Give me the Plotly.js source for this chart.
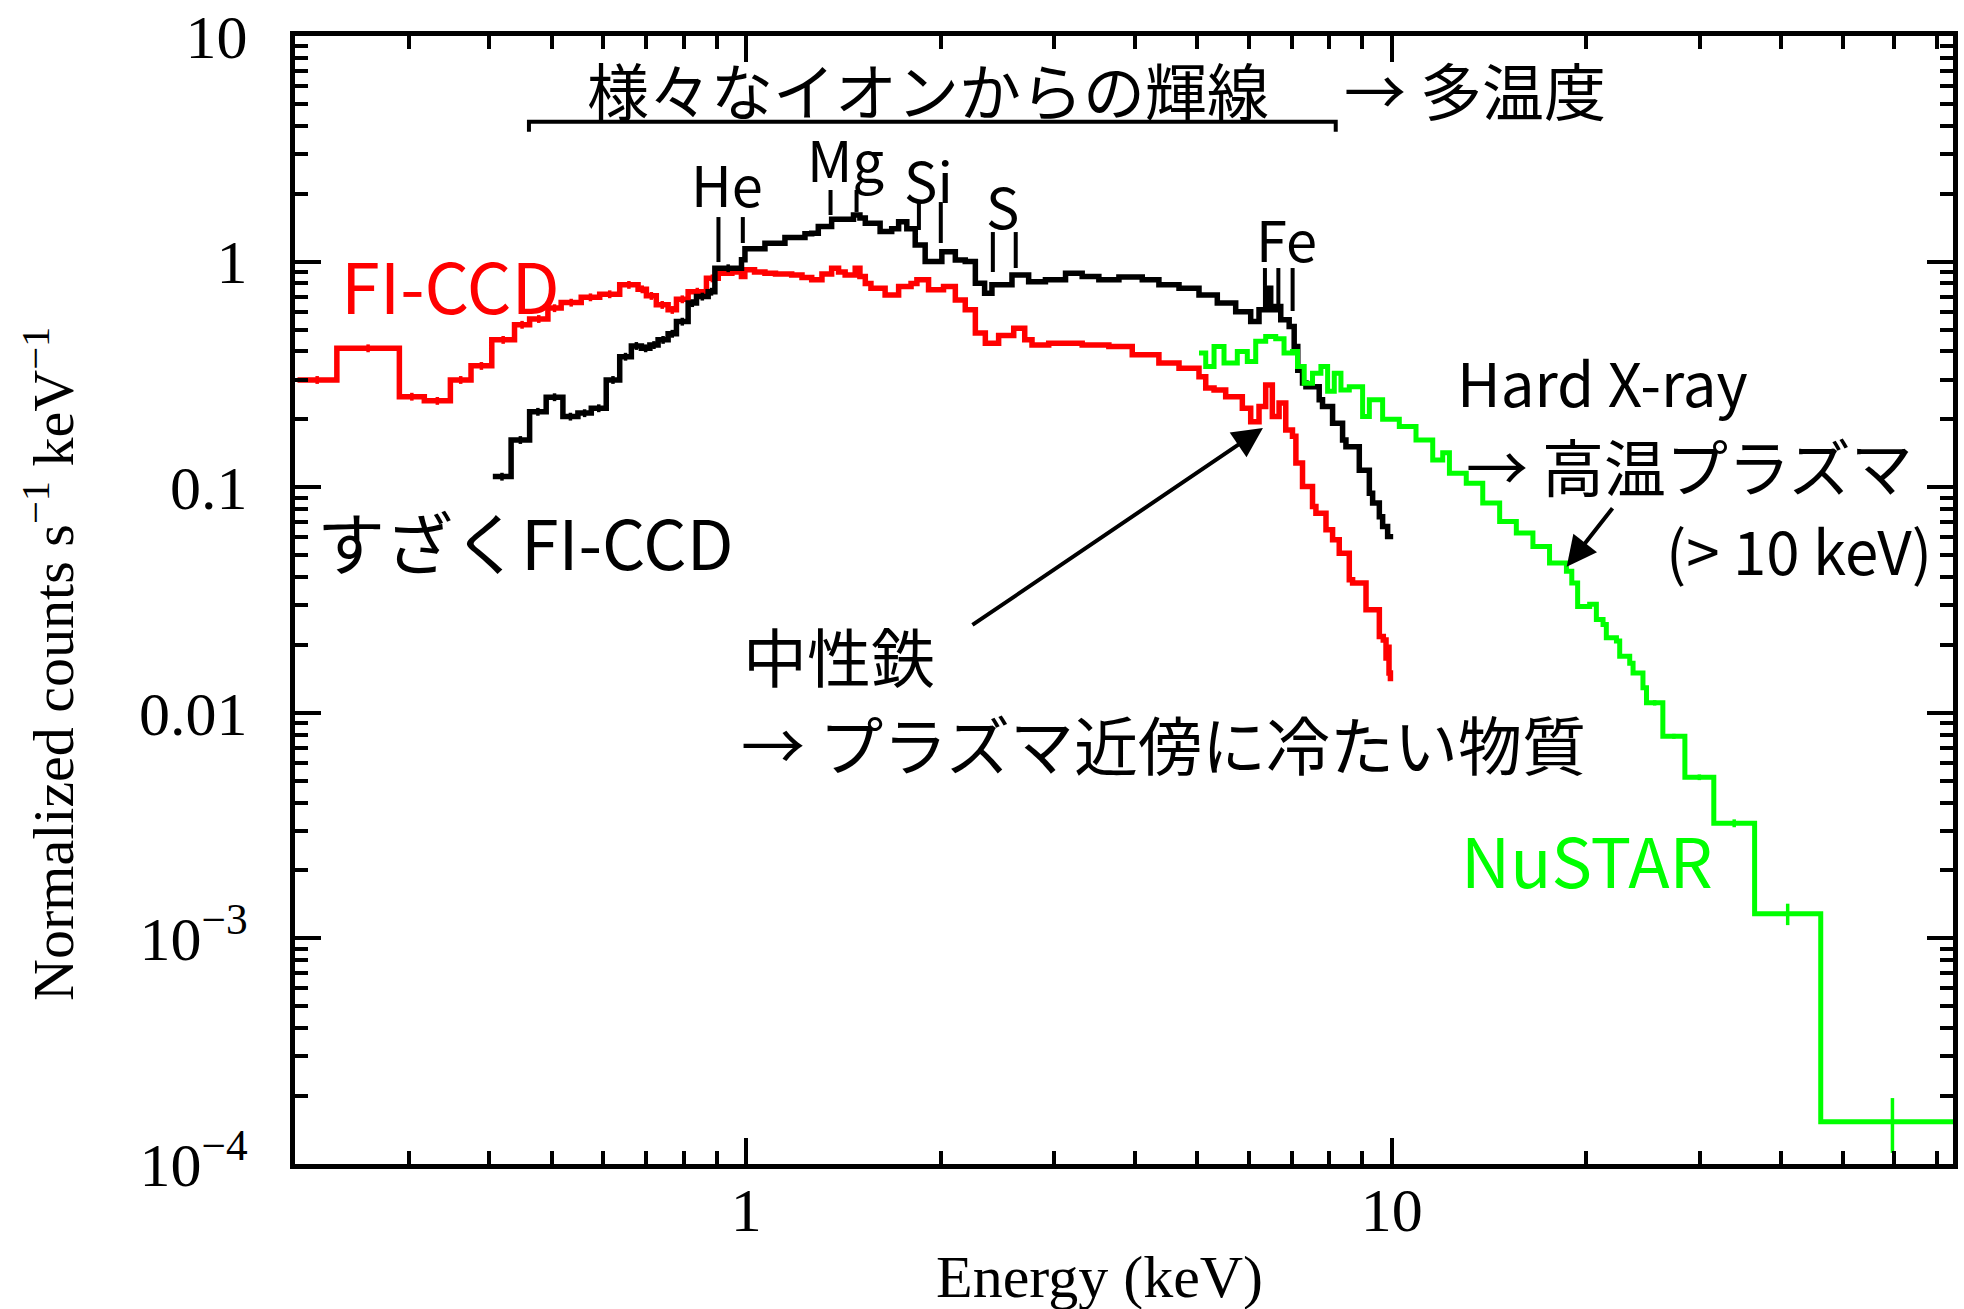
<!DOCTYPE html>
<html><head><meta charset="utf-8">
<script src="https://cdn.plot.ly/plotly-3.0.1.min.js"></script>
<style>body{margin:0;background:#fff}</style>
</head><body><div id="chart" style="width:1964px;height:1309px"></div>
<script>
// ---- data: bin left edges (keV) and normalized counts (s^-1 keV^-1) ----
const redEdges = [0.2018, 0.2322, 0.2902, 0.3172, 0.3481, 0.3747, 0.4035, 0.4376, 0.4618, 0.4929, 0.5168, 0.5551, 0.5929, 0.6368, 0.6799, 0.7004, 0.7256, 0.7568, 0.7796, 0.8128, 0.8676, 0.9049, 0.95, 0.983, 0.995, 1.03, 1.069, 1.11, 1.176, 1.22, 1.263, 1.31, 1.356, 1.39, 1.423, 1.475, 1.50, 1.529, 1.56, 1.641, 1.722, 1.80, 1.838, 1.916, 2.021, 2.108, 2.184, 2.264, 2.346, 2.46, 2.596, 2.70, 2.771, 2.941, 3.123, 3.314, 3.645, 3.962, 4.357, 4.681, 5.027, 5.149, 5.304, 5.529, 5.867, 6.045, 6.227, 6.377, 6.530, 6.689, 6.850, 7.016, 7.102, 7.272, 7.536, 7.628, 7.907, 8.095, 8.29, 8.592, 8.694, 9.12, 9.564, 9.70, 9.795, 9.85, 9.90, 9.95];
const redCounts = [0.299, 0.413, 0.252, 0.2415, 0.299, 0.345, 0.450, 0.525, 0.557, 0.622, 0.658, 0.695, 0.717, 0.789, 0.754, 0.705, 0.643, 0.611, 0.681, 0.736, 0.843, 0.889, 0.90, 0.859, 0.92, 0.90, 0.889, 0.88, 0.873, 0.85, 0.83, 0.88, 0.935, 0.90, 0.873, 0.935, 0.86, 0.80, 0.762, 0.712, 0.776, 0.80, 0.83, 0.75, 0.776, 0.676, 0.611, 0.482, 0.435, 0.47, 0.507, 0.45, 0.427, 0.435, 0.435, 0.427, 0.42, 0.386, 0.355, 0.337, 0.309, 0.275, 0.27, 0.252, 0.224, 0.195, 0.228, 0.284, 0.206, 0.236, 0.1794, 0.168, 0.128, 0.1007, 0.0822, 0.0767, 0.0648, 0.0585, 0.051, 0.0389, 0.0376, 0.0286, 0.0218, 0.021, 0.0175, 0.0195, 0.015, 0.0138];

const blackEdges = [0.405, 0.4323, 0.4618, 0.4899, 0.5200, 0.5486, 0.5754, 0.6069, 0.6368, 0.6638, 0.688, 0.7091, 0.7302, 0.7568, 0.7796, 0.8128, 0.8374, 0.873, 0.8941, 0.9832, 0.9954, 1.069, 1.148, 1.233, 1.263, 1.293, 1.356, 1.423, 1.466, 1.50, 1.529, 1.612, 1.68, 1.722, 1.773, 1.827, 1.893, 1.939, 2.009, 2.108, 2.184, 2.264, 2.34, 2.402, 2.58, 2.642, 2.738, 2.907, 3.123, 3.314, 3.517, 3.778, 4.106, 4.357, 4.681, 5.027, 5.366, 5.73, 6.045, 6.227, 6.377, 6.492, 6.609, 6.729, 6.934, 7.059, 7.15, 7.272, 7.361, 7.718, 7.81, 8.095, 8.389, 8.49, 8.904, 9.229, 9.338, 9.564, 9.677, 9.851, 9.95];
const blackCounts = [0.1114, 0.162, 0.216, 0.2507, 0.2056, 0.213, 0.224, 0.299, 0.379, 0.423, 0.413, 0.427, 0.450, 0.479, 0.542, 0.655, 0.700, 0.736, 0.935, 1.02, 1.14, 1.206, 1.28, 1.33, 1.337, 1.43, 1.54, 1.54, 1.61, 1.56, 1.48, 1.36, 1.40, 1.50, 1.40, 1.186, 1.0, 1.0, 1.107, 1.017, 1.0, 0.802, 0.724, 0.789, 0.873, 0.873, 0.815, 0.83, 0.889, 0.86, 0.83, 0.855, 0.83, 0.789, 0.762, 0.712, 0.655, 0.60, 0.542, 0.611, 0.762, 0.611, 0.632, 0.552, 0.515, 0.42, 0.33, 0.29, 0.279, 0.244, 0.228, 0.192, 0.162, 0.151, 0.119, 0.094, 0.085, 0.074, 0.067, 0.0605, 0.062];

const greenEdges = [5.027, 5.149, 5.304, 5.496, 5.763, 5.972, 6.154, 6.377, 6.609, 6.808, 7.016, 7.143, 7.316, 7.536, 7.765, 7.953, 8.144, 8.34, 8.592, 9.01, 9.229, 9.677, 10.27, 10.9, 11.57, 11.99, 12.28, 13.04, 13.83, 14.69, 15.59, 16.54, 17.55, 18.64, 19.0, 19.4, 20.25, 20.74, 21.24, 21.49, 22.28, 22.54, 23.36, 23.64, 24.49, 24.80, 26.29, 28.44, 31.53, 36.47, 46.17, 77];
const greenCounts = [0.393, 0.343, 0.42, 0.355, 0.40, 0.361, 0.443, 0.466, 0.455, 0.393, 0.40, 0.343, 0.289, 0.32, 0.343, 0.266, 0.32, 0.27, 0.279, 0.206, 0.244, 0.20, 0.186, 0.162, 0.132, 0.142, 0.1154, 0.104, 0.085, 0.0705, 0.0626, 0.0546, 0.0461, 0.0424, 0.0376, 0.0296, 0.0303, 0.0259, 0.0246, 0.0215, 0.0208, 0.0178, 0.0166, 0.0150, 0.0129, 0.01107, 0.00787, 0.00518, 0.00324, 0.001285, 0.000154, 0.000154];
// error bars of the wide NuSTAR bins (index 45..50)
const greenWideErr = [0.0003, 0.0002, 0.00015, 0.00013, 0.00014, 0.000042];

const yTickVals = [1e-4, 1e-3, 0.01, 0.1, 1, 10];
const yTickText = ['10<sup>\u22124</sup>', '10<sup>\u22123</sup>', '0.01', '0.1', '1', '10'];
const xTickVals = [1, 10];
const xTickText = ['1', '10'];

// ---- helpers ----
function binCenters(edges, from, to) {
  const c = [];
  for (let i = from; i <= to; i++) c.push(Math.sqrt(edges[i] * edges[i + 1]));
  return c;
}
function minorTicks(decades, lo, hi) {
  const v = [];
  decades.forEach(d => { for (let k = 2; k <= 9; k++) { const t = k * d; if (t >= lo && t <= hi) v.push(t); } });
  return v;
}

const RED = '#ff0000', BLACK = '#000000', GREEN = '#00ff00';

function stepTrace(edges, counts, color, lw) {
  return { x: edges, y: counts, type: 'scatter', mode: 'lines',
    line: { shape: 'hv', color: color, width: lw }, hoverinfo: 'skip' };
}
function crossTrace(edges, counts, from, to, color, err) {
  const ys = counts.slice(from, to + 1);
  const ey = err ? { type: 'data', array: err, visible: true, thickness: 3.5, width: 0, color: color }
                 : { type: 'percent', value: 4, visible: true, thickness: 3.5, width: 0, color: color };
  return { x: binCenters(edges, from, to), y: ys, type: 'scatter', mode: 'markers',
    marker: { size: 1, color: color, opacity: 0 }, error_y: ey, hoverinfo: 'skip' };
}

const traces = [
  stepTrace(redEdges, redCounts, RED, 5.5),
  crossTrace(redEdges, redCounts, 0, 20, RED),
  stepTrace(blackEdges, blackCounts, BLACK, 5.5),
  crossTrace(blackEdges, blackCounts, 0, 18, BLACK),
  stepTrace(greenEdges, greenCounts, GREEN, 5),
  crossTrace(greenEdges, greenCounts, 45, 50, GREEN, greenWideErr)
];

const SERIF = 'Liberation Serif, Times New Roman, serif';
const JP = 'Noto Sans CJK JP, Noto Sans, sans-serif';

function txt(text, x, y, size, color, extra) {
  return Object.assign({ text: text, x: x, y: y, xref: 'paper', yref: 'paper',
    xanchor: 'center', yanchor: 'middle', showarrow: false,
    font: { family: JP, size: size, color: color || BLACK } }, extra || {});
}
function arrow(x, y, ax, ay) {
  return { text: '', x: x, y: y, xref: 'paper', yref: 'paper', ax: ax, ay: ay,
    showarrow: true, arrowhead: 2, arrowsize: 1.5, arrowwidth: 4, arrowcolor: BLACK };
}
function vline(x, y0, y1) {
  return { type: 'line', xref: 'paper', yref: 'paper', x0: x, x1: x, y0: y0, y1: y1,
    line: { color: BLACK, width: 4 } };
}

const annotations = [
  txt('様々なイオンからの輝線', 0.3815, 0.953, 62),
  txt('→ 多温度', 0.712, 0.953, 62),
  txt('He', 0.2603, 0.8697, 56),
  txt('Mg', 0.3323, 0.8923, 56),
  txt('Si', 0.3818, 0.8737, 56),
  txt('S', 0.4270, 0.8502, 56),
  txt('Fe', 0.5980, 0.8218, 56),
  txt('FI-CCD', 0.0935, 0.781, 70, RED),
  txt('すざくFI-CCD', 0.1385, 0.553, 68),
  txt('中性鉄', 0.328, 0.4517, 64),
  txt('→ プラズマ近傍に冷たい物質', 0.5238, 0.3741, 64),
  txt('Hard X-ray', 0.7883, 0.6946, 60),
  txt('→ 高温プラズマ', 0.8411, 0.6193, 62),
  txt('(> 10 keV)', 0.9071, 0.546, 60),
  txt('NuSTAR', 0.7795, 0.2709, 68, GREEN),
  arrow(0.5838, 0.6525, -292, 198),
  arrow(0.767, 0.5295, 47, -60),
  { text: 'Energy (keV)', x: 0.4855, y: -0.1002, xref: 'paper', yref: 'paper', showarrow: false,
    xanchor: 'center', yanchor: 'middle', font: { family: SERIF, size: 60, color: BLACK } },
  { text: 'Normalized counts s<sup>\u22121</sup> keV<sup>\u22121</sup>', x: -0.1478, y: 0.4433,
    xref: 'paper', yref: 'paper', textangle: -90, showarrow: false,
    xanchor: 'center', yanchor: 'middle', font: { family: SERIF, size: 58, color: BLACK } }
];

const shapes = [
  { type: 'path', xref: 'paper', yref: 'paper',
    path: 'M 0.1411 0.9152 L 0.1411 0.924 L 0.6277 0.924 L 0.6277 0.9152',
    line: { color: BLACK, width: 4 } },
  vline(0.2554, 0.8395, 0.7996), vline(0.2701, 0.8395, 0.8165),
  vline(0.3230, 0.8635, 0.8413), vline(0.3387, 0.8635, 0.8440),
  vline(0.3763, 0.8528, 0.8280), vline(0.3895, 0.8528, 0.8165),
  vline(0.4209, 0.8262, 0.7908), vline(0.4347, 0.8262, 0.7943),
  vline(0.5850, 0.7943, 0.7784), vline(0.5931, 0.7943, 0.7562), vline(0.6017, 0.7943, 0.7562)
];

const axisCommon = {
  type: 'log', showgrid: false, zeroline: false, showline: true, linecolor: BLACK, linewidth: 5,
  mirror: 'allticks', ticks: 'inside', ticklen: 26, tickwidth: 4, tickcolor: BLACK,
  tickmode: 'array', tickfont: { family: SERIF, size: 62, color: BLACK }
};

const layout = {
  width: 1964, height: 1309,
  margin: { l: 295, r: 11, t: 36, b: 145 },
  paper_bgcolor: '#ffffff', plot_bgcolor: '#ffffff',
  showlegend: false,
  xaxis: Object.assign({}, axisCommon, {
    range: [Math.log10(0.2), Math.log10(74)],
    tickvals: xTickVals, ticktext: xTickText, ticklabelstandoff: -12,
    minor: { tickmode: 'array', tickvals: minorTicks([0.1, 1, 10], 0.2, 74), ticks: 'inside', ticklen: 13, tickwidth: 4, tickcolor: BLACK, showgrid: false },
    title: { text: '' }
  }),
  yaxis: Object.assign({}, axisCommon, {
    range: [-4, 1],
    tickvals: yTickVals, ticktext: yTickText, ticklabelstandoff: 30,
    minor: { tickmode: 'array', tickvals: minorTicks([1e-4, 1e-3, 1e-2, 0.1, 1], 1e-4, 10), ticks: 'inside', ticklen: 13, tickwidth: 4, tickcolor: BLACK, showgrid: false },
    title: { text: '' }
  }),
  annotations: annotations,
  shapes: shapes
};

Plotly.newPlot('chart', traces, layout, { staticPlot: true, displayModeBar: false });
</script>
</body></html>
